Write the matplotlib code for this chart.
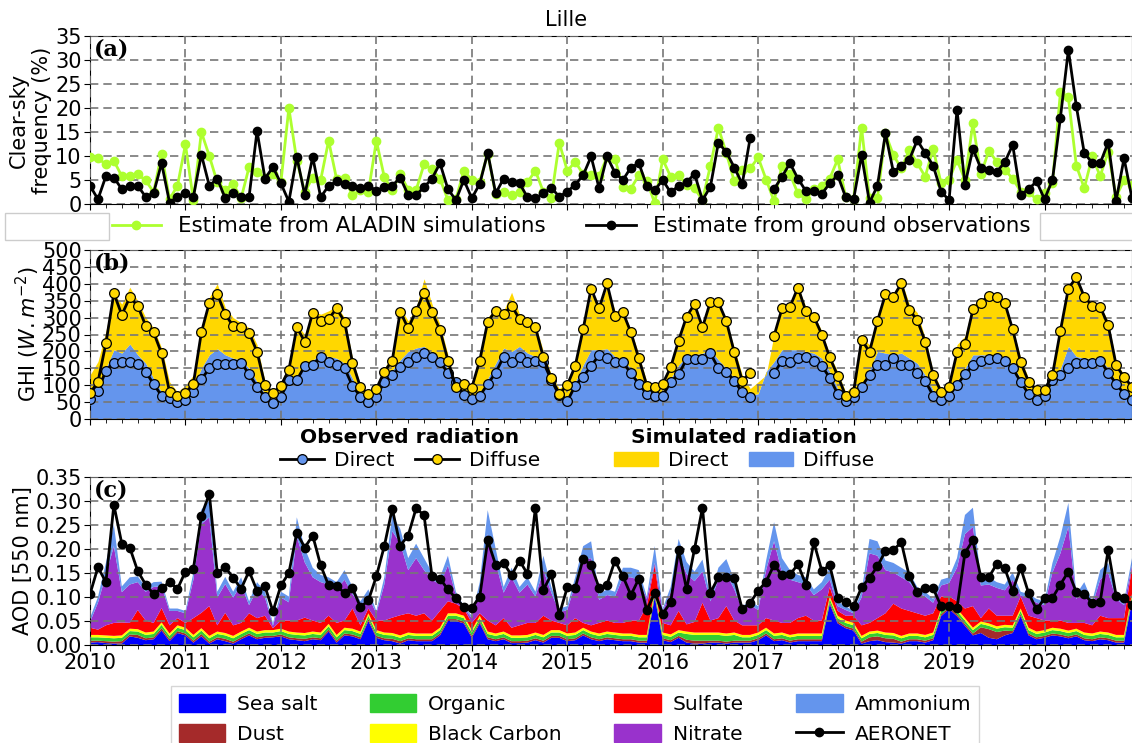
import numpy as np
import matplotlib
matplotlib.use("Agg")
import matplotlib.pyplot as plt
from matplotlib.lines import Line2D
from matplotlib.patches import Patch, Rectangle

nan = np.nan
years = [str(y) for y in range(2010, 2021)]

# ---------------- Panel (a): clear-sky frequency (%) ----------------
clearsky_aladin = [
    9.8, 9.5, 8.3, 9.0, 5.8, 5.8, 6.2, 4.9, 2.5, 10.5, 1.0, 3.8,
    12.4, 0.8, 15.0, 10.0, 4.5, 3.0, 4.2, 1.2, 7.7, 6.7, 5.5, 6.2,
    4.5, 20.0, 9.0, 2.5, 5.5, 5.0, 13.2, 5.2, 5.5, 1.8, 2.9, 2.5,
    13.2, 5.6, 2.9, 6.2, 3.0, 2.9, 8.3, 7.2, 5.3, 0.8, 1.0, 6.9,
    5.0, 4.6, 10.5, 2.0, 2.5, 1.9, 2.5, 4.6, 6.9, 2.5, 1.3, 12.8,
    6.9, 8.8, 6.2, 6.0, 5.8, 9.8, 9.4, 3.5, 3.2, 6.0, 4.8, 0.2,
    9.3, 5.7, 6.0, 4.0, 3.3, 0.8, 8.0, 15.9, 10.6, 4.7, 7.1, 7.4,
    9.7, 5.1, 0.6, 8.0, 6.2, 2.2, 1.0, 3.1, 3.8, 5.3, 9.3, 1.5,
    1.0, 15.9, 1.2, 1.2, 14.7, 10.2, 7.4, 11.2, 8.5, 5.7, 11.5, 4.3,
    5.0, 9.2, 5.0, 16.8, 6.2, 11.1, 8.8, 7.1, 5.3, 2.6, 2.4, 1.0,
    2.2, 4.3, 23.3, 22.2, 8.0, 3.3, 9.9, 5.8, 10.9, 1.5, 5.0, 4.0]
clearsky_ground = [
    3.8, 1.0, 5.8, 5.5, 3.1, 3.8, 3.8, 1.5, 2.3, 8.5, 0.3, 1.5,
    2.3, 1.5, 10.3, 3.8, 5.3, 1.2, 2.3, 1.5, 1.5, 15.2, 5.3, 7.7,
    4.3, 0.5, 9.8, 1.9, 9.8, 1.4, 3.8, 4.7, 4.2, 3.8, 3.3, 3.8,
    2.8, 3.5, 3.8, 5.5, 1.9, 1.9, 3.5, 5.3, 8.5, 3.1, 0.8, 5.0,
    1.2, 4.2, 10.7, 2.2, 5.3, 4.5, 4.3, 1.4, 1.2, 2.2, 3.4, 1.5,
    2.6, 4.0, 6.0, 9.9, 3.3, 9.9, 6.5, 5.0, 7.6, 8.5, 3.8, 2.9,
    5.0, 2.4, 3.8, 4.5, 6.3, 0.8, 3.6, 12.8, 10.8, 7.6, 4.2, 13.8,
    nan, nan, 3.1, 5.7, 8.5, 5.3, 2.7, 2.7, 2.1, 4.3, 6.0, 1.4,
    1.0, 10.2, 0.3, 3.8, 14.7, 6.7, 8.0, 9.2, 13.3, 10.6, 8.0, 2.6,
    0.8, 19.6, 4.0, 11.5, 7.4, 7.1, 6.7, 8.7, 12.3, 1.9, 3.1, 4.7,
    1.0, 5.0, 18.0, 32.1, 20.4, 10.6, 8.6, 8.5, 12.8, 0.7, 9.5, 1.2]

# ---------------- Panel (b): GHI (W m-2) ----------------
obs_direct = [
    58, 84, 143, 167, 168, 170, 163, 140, 103, 69, 62, 49,
    56, 81, 117, 150, 163, 163, 163, 167, 132, 96, 66, 46,
    66, 115, 115, 157, 160, 184, 168, 160, 150, 98, 66, 49,
    66, 110, 130, 153, 168, 184, 196, 184, 168, 137, 110, 71,
    58, 69, 103, 137, 184, 168, 184, 168, 173, 168, 115, 70,
    52, 99, 125, 157, 189, 179, 168, 168, 135, 104, 74, 69,
    69, 110, 132, 177, 177, 177, 194, 150, 140, 113, 79, 66,
    nan, nan, 135, 173, 168, 179, 184, 173, 157, 122, 74, 54,
    66, 96, 130, 160, 160, 179, 160, 160, 137, 113, 69, 56,
    69, 101, 132, 160, 173, 177, 179, 173, 150, 110, 74, 56,
    69, 115, 130, 150, 167, 167, 167, 173, 137, 105, 74, 56]
obs_diffuse = [
    76, 110, 224, 372, 308, 360, 335, 276, 256, 194, 80, 69,
    76, 105, 256, 344, 370, 310, 275, 271, 255, 199, 100, 76,
    99, 145, 271, 229, 315, 291, 296, 327, 288, 167, 94, 73,
    89, 140, 173, 318, 268, 320, 374, 316, 263, 173, 94, 105,
    93, 173, 288, 320, 310, 335, 296, 288, 271, 182, 120, 75,
    100, 157, 266, 386, 327, 401, 305, 316, 256, 179, 99, 94,
    104, 153, 232, 303, 340, 271, 347, 345, 290, 197, 113, 137,
    nan, nan, 246, 327, 332, 389, 319, 303, 250, 182, 128, 69,
    81, 234, 199, 290, 369, 362, 401, 322, 293, 229, 130, 81,
    96, 197, 221, 324, 344, 365, 360, 344, 265, 168, 110, 86,
    86, 130, 261, 386, 419, 362, 335, 332, 278, 160, 123, 96]
sim_diffuse_top = [
    55, 80, 150, 205, 195, 222, 190, 165, 120, 80, 60, 50,
    60, 95, 150, 190, 208, 190, 180, 175, 150, 110, 75, 55,
    65, 115, 125, 160, 175, 190, 185, 180, 165, 120, 75, 55,
    65, 120, 145, 175, 200, 210, 215, 195, 180, 150, 110, 70,
    60, 75, 120, 165, 210, 200, 215, 195, 185, 170, 120, 80,
    55, 110, 160, 205, 205, 208, 185, 175, 150, 110, 75, 65,
    75, 120, 160, 185, 190, 195, 205, 175, 150, 120, 85, 70,
    75, 140, 170, 205, 205, 205, 200, 195, 180, 140, 90, 65,
    70, 100, 145, 200, 195, 190, 195, 180, 165, 130, 85, 65,
    70, 110, 150, 190, 190, 190, 185, 180, 160, 120, 80, 60,
    65, 110, 150, 215, 185, 180, 180, 180, 150, 110, 80, 65]
sim_total_top = [
    130, 170, 260, 370, 340, 390, 350, 300, 270, 210, 110, 80,
    100, 130, 270, 360, 400, 330, 300, 285, 270, 220, 110, 80,
    110, 160, 280, 250, 320, 310, 320, 335, 300, 180, 100, 80,
    100, 150, 190, 330, 290, 330, 415, 340, 280, 190, 100, 110,
    100, 190, 300, 330, 320, 375, 310, 295, 280, 200, 130, 90,
    110, 170, 270, 370, 330, 390, 320, 320, 265, 190, 110, 100,
    110, 165, 245, 310, 340, 280, 355, 340, 290, 210, 130, 90,
    110, 130, 250, 330, 330, 395, 330, 310, 260, 190, 140, 80,
    100, 240, 220, 300, 360, 365, 410, 340, 315, 240, 140, 90,
    100, 220, 245, 340, 350, 375, 370, 340, 270, 180, 120, 90,
    95, 140, 260, 390, 425, 365, 345, 335, 290, 170, 130, 100]

# ---------------- Panel (c): AOD 550 nm ----------------
aod_seasalt = [
    .005, .006, .004, .003, .003, .018, .015, .010, .012, .030, .008, .025,
    .020, .005, .018, .003, .012, .008, .003, .012, .020, .012, .015, .016,
    .018, .012, .010, .008, .012, .010, .028, .005, .020, .018, .012, .050,
    .015, .010, .008, .003, .010, .008, .008, .008, .020, .050, .050, .045,
    .015, .045, .012, .008, .012, .004, .004, .005, .010, .005, .015, .015,
    .008, .010, .020, .012, .008, .012, .010, .008, .008, .005, .005, .100,
    .010, .006, .015, .005, .003, .003, .005, .005, .003, .005, .005, .005,
    .010, .020, .008, .010, .005, .008, .008, .008, .008, .085, .045, .035,
    .030, .003, .008, .010, .006, .005, .003, .008, .008, .005, .010, .060,
    .075, .060, .040, .020, .025, .015, .012, .020, .025, .060, .020, .012,
    .015, .020, .018, .014, .018, .010, .008, .012, .010, .005, .005, .090]
aod_dust = [
    .004, .003, .004, .004, .005, .004, .006, .004, .004, .005, .004, .004,
    .004, .004, .005, .004, .004, .005, .004, .004, .004, .004, .004, .003,
    .004, .004, .004, .005, .004, .004, .004, .004, .004, .004, .004, .004,
    .004, .004, .005, .005, .004, .004, .004, .004, .004, .004, .004, .004,
    .004, .004, .004, .004, .004, .004, .004, .004, .004, .004, .004, .004,
    .004, .004, .004, .004, .004, .004, .004, .004, .004, .004, .004, .004,
    .004, .004, .004, .006, .006, .006, .004, .004, .004, .004, .004, .004,
    .004, .004, .004, .004, .004, .004, .004, .004, .004, .004, .004, .004,
    .004, .004, .008, .008, .008, .008, .004, .004, .004, .004, .004, .004,
    .004, .004, .004, .004, .012, .018, .015, .010, .004, .004, .004, .004,
    .004, .004, .004, .004, .004, .004, .004, .004, .004, .004, .004, .004]
aod_organic = [
    .007, .007, .007, .007, .007, .007, .007, .007, .007, .007, .007, .007,
    .007, .007, .007, .007, .007, .007, .007, .007, .007, .007, .007, .007,
    .007, .007, .007, .007, .007, .007, .007, .007, .007, .007, .007, .007,
    .007, .007, .007, .007, .007, .007, .007, .007, .007, .007, .007, .007,
    .007, .007, .007, .007, .007, .007, .007, .007, .007, .007, .007, .007,
    .007, .007, .007, .007, .007, .007, .007, .007, .007, .007, .007, .007,
    .007, .007, .007, .012, .012, .012, .012, .012, .012, .012, .007, .007,
    .007, .007, .007, .007, .007, .007, .007, .007, .007, .007, .007, .007,
    .007, .007, .007, .007, .007, .007, .007, .007, .007, .007, .007, .007,
    .007, .007, .007, .007, .007, .007, .007, .007, .007, .007, .007, .007,
    .007, .007, .007, .007, .007, .007, .007, .007, .007, .007, .007, .007]
aod_bc = [.005] * 132
aod_sulfate = [
    .015, .011, .021, .027, .027, .012, .040, .025, .018, .030, .017, .015,
    .010, .035, .032, .062, .013, .042, .022, .018, .030, .028, .030, .004,
    .017, .023, .025, .032, .023, .020, .017, .025, .015, .042, .013, .010,
    .020, .025, .032, .042, .040, .037, .042, .027, .035, .025, .020, .015,
    .015, .005, .023, .017, .028, .016, .021, .025, .020, .040, .020, .015,
    .017, .030, .010, .013, .022, .023, .020, .022, .027, .030, .060, .050,
    .020, .019, .040, .015, .022, .062, .025, .030, .057, .025, .020, .020,
    .015, .020, .027, .020, .025, .032, .037, .027, .027, .020, .010, .010,
    .015, .022, .018, .026, .040, .061, .057, .047, .042, .040, .040, .025,
    .010, .015, .020, .045, .007, .031, .022, .019, .020, .025, .025, .028,
    .020, .015, .017, .016, .012, .020, .017, .033, .030, .035, .035, .055]
aod_nitrate = [
    .012, .056, .105, .160, .063, .080, .058, .060, .075, .045, .030, .015,
    .020, .080, .185, .185, .058, .060, .058, .080, .017, .060, .038, .005,
    .048, .038, .175, .115, .090, .085, .065, .070, .085, .030, .040, .025,
    .015, .075, .180, .150, .090, .120, .090, .085, .055, .075, .017, .002,
    .010, .050, .180, .130, .053, .105, .068, .080, .055, .095, .058, .022,
    .032, .070, .130, .140, .048, .053, .055, .095, .090, .085, .015, .005,
    .025, .068, .120, .105, .085, .065, .040, .080, .068, .065, .032, .042,
    .032, .100, .165, .105, .090, .075, .065, .053, .065, .015, .010, .012,
    .005, .058, .145, .130, .090, .065, .065, .060, .043, .040, .022, .023,
    .028, .070, .155, .165, .068, .050, .058, .053, .075, .002, .037, .032,
    .032, .100, .140, .200, .050, .070, .042, .075, .095, .040, .027, .005]
aod_ammonium = [
    .008, .012, .025, .045, .012, .015, .012, .010, .010, .010, .005, .005,
    .005, .015, .030, .035, .012, .015, .012, .015, .008, .015, .012, .005,
    .012, .012, .040, .030, .020, .015, .015, .015, .020, .015, .010, .015,
    .005, .015, .035, .030, .025, .030, .025, .015, .015, .020, .008, .003,
    .005, .015, .050, .030, .012, .020, .012, .015, .010, .030, .012, .008,
    .008, .015, .030, .035, .012, .012, .010, .020, .020, .020, .005, .035,
    .005, .012, .030, .025, .020, .025, .010, .025, .030, .020, .008, .008,
    .008, .020, .040, .030, .020, .015, .015, .012, .015, .025, .010, .008,
    .005, .012, .030, .030, .020, .020, .020, .020, .012, .010, .008, .012,
    .012, .020, .040, .040, .012, .015, .012, .012, .015, .008, .008, .008,
    .008, .020, .035, .050, .010, .015, .008, .020, .020, .010, .008, .015]
aod_aeronet = [
    .106, .162, .131, .292, .211, .203, .154, .126, .106, .118, .131, .117,
    .153, .159, .269, .315, .150, .162, .140, .117, .154, .113, .122, .070,
    .124, .150, .234, .203, .228, .166, .124, .122, .109, .118, .079, .093,
    .143, .206, .284, .207, .228, .285, .270, .143, .138, .116, .097, .080,
    .077, .101, .218, .167, .171, .145, .176, .148, .286, .115, .147, .063,
    .120, .119, .180, .166, .119, .126, .176, .143, .104, .138, .072, .109,
    .065, .089, .198, .116, .200, .286, .109, .141, .141, .140, .074, .088,
    .113, .132, .167, .145, .147, .168, .126, .214, .155, .166, .098, .089,
    .081, .120, .140, .164, .196, .198, .214, .143, .111, .119, .118, .081,
    .081, .077, .192, .218, .141, .141, .169, .160, .113, .161, .108, .074,
    .097, .098, .126, .153, .110, .106, .088, .090, .198, .103, .097, .084]

species = ["Sea salt", "Dust", "Organic", "Black Carbon", "Sulfate", "Nitrate", "Ammonium"]
species_colors = ["#0000FF", "#A52A2A", "#32CD32", "#FFFF00", "#FF0000", "#9932CC", "#6495ED"]

# ---------------- figure ----------------
W, H = 1132, 743
fig = plt.figure(figsize=(W / 100, H / 100), dpi=100)
FS = 14.5
x = np.arange(len(clearsky_ground))


def rect(top, bottom, left=90, right=1132):
    return [left / W, 1 - bottom / H, (right - left) / W, (bottom - top) / H]


def style(ax, ymax, ystep, fmt=None, showx=False):
    ax.set_xlim(0, len(x) - 1)
    ax.set_ylim(0, ymax)
    ax.set_xticks(np.arange(0, len(x), 12))
    ax.set_xticks(np.arange(0, len(x), 2), minor=True)
    ax.set_yticks(np.arange(0, ymax + ystep / 2, ystep))
    if fmt:
        ax.yaxis.set_major_formatter(matplotlib.ticker.FormatStrFormatter(fmt))
    if showx:
        ax.set_xticklabels(years)
    else:
        ax.set_xticklabels([])
    ax.tick_params(axis="both", which="major", labelsize=FS + 0.5, length=4, pad=2)
    ax.tick_params(axis="x", which="minor", length=3)
    ax.set_axisbelow(False)
    ax.grid(True, which="major", color="#777777", linestyle=(0, (5, 3)), linewidth=1.2)


# Panel (a)
axa = fig.add_axes(rect(36, 204))
la, = axa.plot(x, clearsky_aladin, "-o", color="#ADFF2F", lw=2, ms=6, zorder=3)
lg, = axa.plot(x, clearsky_ground, "-o", color="black", lw=2, ms=6, zorder=4)
style(axa, 35, 5)
axa.set_ylabel("Clear-sky\nfrequency (%)", fontsize=FS + 0.5, labelpad=2)
axa.text(0.004, 0.985, "(a)", transform=axa.transAxes, va="top", ha="left",
         fontsize=16, fontweight="bold", family="DejaVu Serif", zorder=6)

# Panel (b)
axb = fig.add_axes(rect(250, 419))
axb.fill_between(x, 0, sim_diffuse_top, color="#6495ED", lw=0, zorder=1)
axb.fill_between(x, sim_diffuse_top, sim_total_top, color="#FFD700", lw=0, zorder=1)
hb1, = axb.plot(x, obs_direct, "-o", color="black", lw=2, ms=7, mfc="#6495ED",
                mec="black", mew=0.9, zorder=3)
hb2, = axb.plot(x, obs_diffuse, "-o", color="black", lw=2, ms=7, mfc="#FFD700",
                mec="black", mew=0.9, zorder=3)
style(axb, 500, 50)
axb.set_ylabel(r"GHI ($W.m^{-2}$)", fontsize=FS + 0.5, labelpad=0)
axb.text(0.004, 0.985, "(b)", transform=axb.transAxes, va="top", ha="left",
         fontsize=16, fontweight="bold", family="DejaVu Serif", zorder=6)

# Panel (c)
axc = fig.add_axes(rect(477, 645))
axc.stackplot(x, aod_seasalt, aod_dust, aod_organic, aod_bc, aod_sulfate,
              aod_nitrate, aod_ammonium, colors=species_colors, lw=0, zorder=1)
hc, = axc.plot(x, aod_aeronet, "-o", color="black", lw=2, ms=6, zorder=3)
style(axc, 0.35, 0.05, fmt="%.2f", showx=True)
axc.set_ylabel("AOD [550 nm]", fontsize=FS + 0.5, labelpad=2)
axc.text(0.004, 0.985, "(c)", transform=axc.transAxes, va="top", ha="left",
         fontsize=16, fontweight="bold", family="DejaVu Serif", zorder=6)

fig.text(566 / W, 1 - 20 / H, "Lille", ha="center", va="center", fontsize=FS + 0.5)

# Legend (a)
fig.legend([la, lg], ["Estimate from ALADIN simulations", "Estimate from ground observations"],
           loc="center", bbox_to_anchor=(571 / W, 1 - 226 / H), ncol=2, frameon=False,
           fontsize=15.4, handlelength=2.3, columnspacing=1.9, handletextpad=0.8)
for (x0, x1) in [(5, 109), (1040, 1140)]:
    fig.patches.append(Rectangle((x0 / W, 1 - 240 / H), (x1 - x0) / W, 27 / H,
                                 transform=fig.transFigure, fill=False,
                                 edgecolor="#cccccc", lw=1))

# Legends (b)
fig.legend([hb1, hb2], ["Direct", "Diffuse"], title="Observed radiation",
           title_fontproperties={"weight": "bold", "size": FS},
           loc="center", bbox_to_anchor=(410 / W, 1 - 449 / H), ncol=2, frameon=False,
           fontsize=FS, handlelength=2.2, columnspacing=1.0, handletextpad=0.5,
           borderpad=0.1, labelspacing=0.2)
fig.legend([Patch(color="#FFD700"), Patch(color="#6495ED")], ["Direct", "Diffuse"],
           title="Simulated radiation",
           title_fontproperties={"weight": "bold", "size": FS},
           loc="center", bbox_to_anchor=(744 / W, 1 - 449 / H), ncol=2, frameon=False,
           fontsize=FS, handlelength=2.2, columnspacing=1.0, handletextpad=0.5,
           borderpad=0.1, labelspacing=0.2)

# Legend (c)
hands = [Patch(color=c) for c in species_colors]
aer = Line2D([], [], color="black", lw=2, marker="o", ms=6)
order_h = [hands[0], hands[1], hands[2], hands[3], hands[4], hands[5], hands[6], aer]
order_l = species + ["AERONET"]
leg = fig.legend(order_h, order_l, loc="upper center", bbox_to_anchor=(575 / W, 1 - 686 / H),
                 ncol=4, frameon=True, fancybox=False, edgecolor="#cccccc",
                 fontsize=FS, handlelength=2.3, handleheight=1.0, columnspacing=2.6,
                 handletextpad=0.6, borderaxespad=0)
leg.get_frame().set_linewidth(1)

fig.savefig("out.png", dpi=100)
